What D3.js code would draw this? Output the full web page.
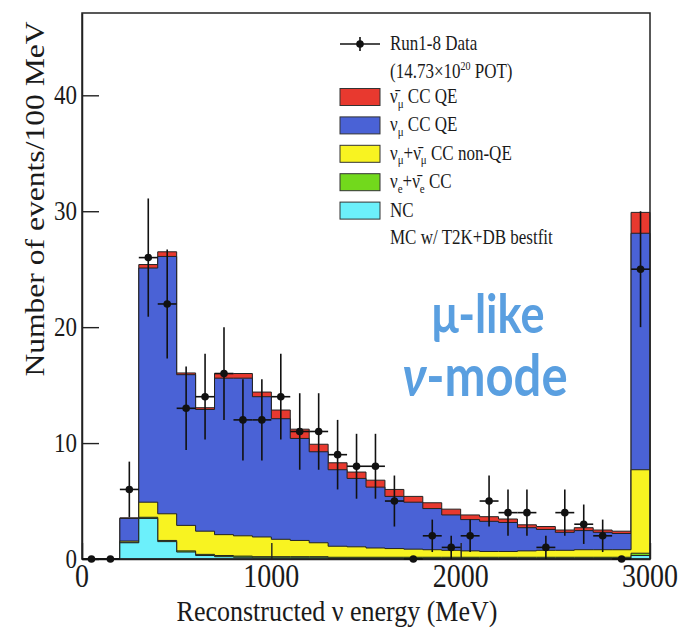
<!DOCTYPE html>
<html>
<head>
<meta charset="utf-8">
<script src="https://cdn.jsdelivr.net/npm/d3@7"></script>
<style>
body { margin: 0; background: #fff; }
svg text { font-family: "Liberation Serif", "Times New Roman", serif; fill: #1a1a1a; }
</style>
</head>
<body>
<div id="chart"></div>
<script>
// bins of 100 MeV, last one holds the overflow
var binLow = d3.range(0, 3000, 100);

// MC components per bin
var ncVals     = [0, 0, 1.4, 3.5, 1.5, 0.6, 0.3, 0.2, 0.15, 0.1, 0.1, 0.1, 0.1, 0.05, 0.05, 0.05, 0.05, 0.05, 0.05, 0.05, 0.05, 0.05, 0.05, 0.05, 0.05, 0.05, 0.05, 0.05, 0.05, 0.3];
var nueVals    = [0, 0, 0.05, 0.1, 0.1, 0.1, 0.1, 0.1, 0.1, 0.1, 0.1, 0.1, 0.1, 0.1, 0.1, 0.1, 0.1, 0.1, 0.1, 0.1, 0.1, 0.1, 0.1, 0.1, 0.1, 0.1, 0.1, 0.1, 0.1, 0.2];
var nonQEVals  = [0, 0, 0.1, 1.3, 2.3, 2.2, 2.0, 1.8, 1.75, 1.7, 1.5, 1.4, 1.2, 0.95, 0.9, 0.8, 0.75, 0.7, 0.65, 0.6, 0.55, 0.5, 0.5, 0.55, 0.6, 0.6, 0.65, 0.65, 0.65, 7.2];
var numuQEVals = [0, 0, 1.95, 20.2, 22.2, 13.0, 10.5, 13.5, 13.6, 12.1, 10.4, 8.8, 7.85, 6.6, 5.9, 5.25, 4.5, 4.05, 3.55, 3.05, 2.7, 2.6, 2.5, 2.0, 1.8, 1.55, 1.65, 1.5, 1.4, 20.4];
var antiQEVals = [0, 0, 0.05, 0.3, 0.4, 0.15, 0.15, 0.4, 0.4, 0.4, 0.75, 0.8, 0.65, 0.6, 0.55, 0.6, 0.6, 0.5, 0.5, 0.5, 0.4, 0.4, 0.3, 0.25, 0.25, 0.2, 0.25, 0.2, 0.2, 1.8];

// data
var dataCounts = [0, 0, 6, 26, 22, 13, 14, 16, 12, 12, 14, 11, 11, 9, 8, 8, 5, 0, 2, 1, 2, 5, 4, 4, 1, 4, 3, 2, 0, 25];
var dataErrors = [0, 0, 2.4, 5.1, 4.7, 3.6, 3.7, 4, 3.5, 3.5, 3.7, 3.3, 3.3, 3, 2.8, 2.8, 2.2, 0, 1.4, 1, 1.4, 2.2, 2, 2, 1, 2, 1.7, 1.4, 0, 5];

var xTicks = [0, 1000, 2000, 3000];
var yTicks = [0, 10, 20, 30, 40];

var keys = ["nc", "nue", "nonqe", "numu", "anti"];
var colors = {anti: "#e8392f", numu: "#4a62d6", nonqe: "#f8f321", nue: "#72d91c", nc: "#6cf0fb"};
var legendItems = [
    {key: "anti", parts: [{t: "\u03bd\u0304"}, {t: "\u03bc", sub: true}, {t: " CC QE"}]},
    {key: "numu", parts: [{t: "\u03bd"}, {t: "\u03bc", sub: true}, {t: " CC QE"}]},
    {key: "nonqe", parts: [{t: "\u03bd"}, {t: "\u03bc", sub: true}, {t: "+\u03bd\u0304"}, {t: "\u03bc", sub: true}, {t: " CC non-QE"}]},
    {key: "nue", parts: [{t: "\u03bd"}, {t: "e", sub: true}, {t: "+\u03bd\u0304"}, {t: "e", sub: true}, {t: " CC"}]},
    {key: "nc", parts: [{t: "NC"}]}
];

var width = 683, height = 627;
var SY = 1.17; // picture is stretched vertically

var x = d3.scaleLinear().domain([0, 3000]).range([82, 650]);
var y = d3.scaleLinear().domain([0, 47.1]).range([559, 13]);

var svg = d3.select("#chart").append("svg")
    .attr("width", width)
    .attr("height", height);

function stretch(sel) {
    sel.attr("transform", function () {
        var t = d3.select(this);
        var px = +t.attr("x"), py = +t.attr("y");
        return "translate(" + px + "," + py + ") scale(1," + SY + ") translate(" + (-px) + "," + (-py) + ")";
    });
}

// stack
var rows = binLow.map(function (b, i) {
    return {x: b, nc: ncVals[i], nue: nueVals[i], nonqe: nonQEVals[i], numu: numuQEVals[i], anti: antiQEVals[i]};
});
var series = d3.stack().keys(keys)(rows);

var area = d3.area()
    .x(function (d) { return x(d.x); })
    .y0(y(0))
    .y1(function (d) { return y(d.top); })
    .curve(d3.curveStepAfter);

var hist = svg.append("g").attr("class", "hist");
series.slice().reverse().forEach(function (s) {
    var pts = s.map(function (d) { return {x: d.data.x, top: d[1]}; });
    pts.push({x: 3000, top: pts[pts.length - 1].top});
    hist.append("path")
        .attr("d", area(pts))
        .attr("fill", colors[s.key])
        .attr("stroke", "#222")
        .attr("stroke-width", 1);
});

// axes, ticks point inward
var gx = svg.append("g").attr("transform", "translate(0," + y(0) + ")");
gx.call(d3.axisBottom(x).tickValues(d3.range(200, 3000, 200).filter(function (v) { return v % 1000; }))
    .tickSizeInner(-8).tickSizeOuter(0).tickFormat(""));
gx.call(d3.axisBottom(x).tickValues(xTicks).tickSizeInner(-16).tickSizeOuter(0).tickFormat(""));

var gy = svg.append("g").attr("transform", "translate(" + x(0) + ",0)");
gy.call(d3.axisLeft(y).tickValues(d3.range(2, 47, 2).filter(function (v) { return v % 10; }))
    .tickSizeInner(-9).tickSizeOuter(0).tickFormat(""));
gy.call(d3.axisLeft(y).tickValues(yTicks).tickSizeInner(-17).tickSizeOuter(0).tickFormat(""));

svg.selectAll(".tick line").attr("stroke", "#222").attr("stroke-width", 1.4);
svg.selectAll(".domain").attr("stroke", "#222").attr("stroke-width", 1.5);

// frame
svg.append("rect")
    .attr("x", x(0)).attr("y", y(47.1))
    .attr("width", x(3000) - x(0)).attr("height", y(0) - y(47.1))
    .attr("fill", "none").attr("stroke", "#222").attr("stroke-width", 1.5);

// tick labels
svg.append("g").selectAll("text")
    .data(xTicks).enter().append("text")
    .attr("x", function (d) { return x(d); })
    .attr("y", 587)
    .attr("text-anchor", "middle")
    .attr("font-size", 28)
    .text(function (d) { return d; })
    .call(stretch);

svg.append("g").selectAll("text")
    .data(yTicks).enter().append("text")
    .attr("x", 77)
    .attr("y", function (d) { return y(d) + 9; })
    .attr("text-anchor", "end")
    .attr("font-size", 23)
    .text(function (d) { return d; })
    .call(stretch);

// axis titles
svg.append("text")
    .attr("x", 337).attr("y", 621)
    .attr("text-anchor", "middle")
    .attr("font-size", 26)
    .text("Reconstructed \u03bd energy (MeV)")
    .call(stretch);

svg.append("text")
    .attr("transform", "translate(44,199) rotate(-90) scale(" + SY + ",1)")
    .attr("text-anchor", "middle")
    .attr("font-size", 27)
    .text("Number of events/100 MeV");

// data points
var pts = svg.append("g").attr("class", "data");
binLow.forEach(function (b, i) {
    var cx = x(b + 50), cy = y(dataCounts[i]);
    if (dataErrors[i] > 0) {
        pts.append("line")
            .attr("x1", cx).attr("x2", cx)
            .attr("y1", y(dataCounts[i] - dataErrors[i])).attr("y2", y(dataCounts[i] + dataErrors[i]))
            .attr("stroke", "#111").attr("stroke-width", 1.6);
    }
    pts.append("line")
        .attr("x1", x(b)).attr("x2", x(b + 100))
        .attr("y1", cy).attr("y2", cy)
        .attr("stroke", "#111").attr("stroke-width", 1.6);
    pts.append("circle")
        .attr("cx", cx).attr("cy", cy).attr("r", 3.8)
        .attr("fill", "#111");
});

// legend
var leg = svg.append("g").attr("class", "legend");
var lx = 340, tx = 390;

leg.append("line").attr("x1", lx).attr("x2", lx + 40).attr("y1", 44).attr("y2", 44)
    .attr("stroke", "#111").attr("stroke-width", 1.6);
leg.append("line").attr("x1", lx + 20).attr("x2", lx + 20).attr("y1", 37).attr("y2", 51)
    .attr("stroke", "#111").attr("stroke-width", 1.6);
leg.append("circle").attr("cx", lx + 20).attr("cy", 44).attr("r", 3.8).attr("fill", "#111");
leg.append("text").attr("x", tx).attr("y", 50).attr("font-size", 17).text("Run1-8 Data").call(stretch);

var pot = leg.append("text").attr("x", tx).attr("y", 78).attr("font-size", 17);
pot.append("tspan").text("(14.73\u00d710");
pot.append("tspan").attr("font-size", 10).attr("dy", -7).text("20");
pot.append("tspan").attr("dy", 7).text(" POT)");
pot.call(stretch);

legendItems.forEach(function (item, i) {
    var cy = 97 + i * 28.4;
    leg.append("rect")
        .attr("x", lx).attr("y", cy - 8.5)
        .attr("width", 40).attr("height", 17)
        .attr("fill", colors[item.key])
        .attr("stroke", "#333").attr("stroke-width", 1);
    var t = leg.append("text").attr("x", tx).attr("y", cy + 6).attr("font-size", 17);
    var shifted = false;
    item.parts.forEach(function (p) {
        var sp = t.append("tspan").text(p.t);
        if (p.sub) {
            sp.attr("font-size", 11).attr("dy", 4);
            shifted = true;
        } else if (shifted) {
            sp.attr("dy", -4);
            shifted = false;
        }
    });
    t.call(stretch);
});

leg.append("text").attr("x", tx).attr("y", 244).attr("font-size", 17)
    .text("MC w/ T2K+DB bestfit").call(stretch);

// overlay label
var lab = svg.append("g")
    .attr("font-family", "Lato, 'Open Sans', sans-serif")
    .attr("font-weight", "bold");
lab.append("text")
    .attr("x", 488).attr("y", 333)
    .attr("text-anchor", "middle")
    .attr("font-size", 45)
    .style("font-family", "Lato, sans-serif")
    .style("fill", "#5a9fe0")
    .text("\u03bc-like")
    .call(stretch);
var nm = lab.append("text")
    .attr("x", 485).attr("y", 396)
    .attr("text-anchor", "middle")
    .attr("font-size", 49)
    .style("font-family", "Lato, sans-serif")
    .style("fill", "#5a9fe0");
nm.append("tspan").attr("font-style", "italic").text("\u03bd");
nm.append("tspan").text("-mode");
nm.call(stretch);
</script>
</body>
</html>
